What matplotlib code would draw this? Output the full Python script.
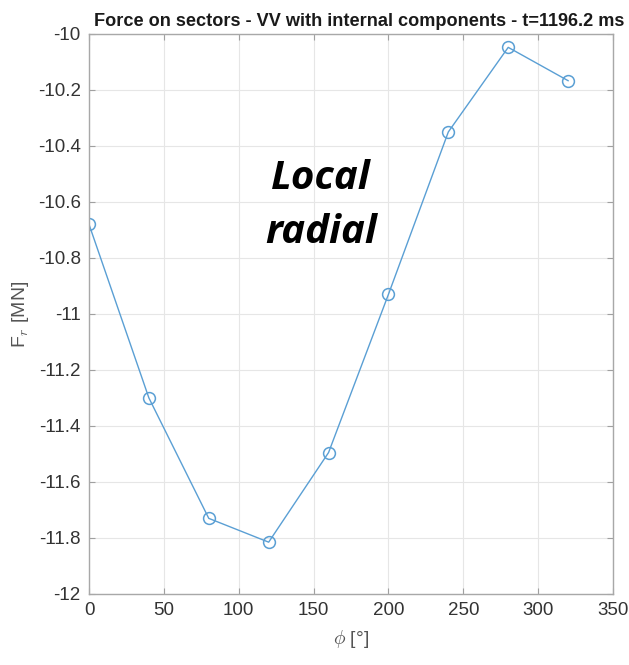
import matplotlib
matplotlib.use("Agg")
import matplotlib.pyplot as plt

# sector angle [deg] and local radial force [MN]
phi = [0, 40, 80, 120, 160, 200, 240, 280, 320]
f_r = [-10.68, -11.30, -11.73, -11.815, -11.495, -10.93, -10.35, -10.048, -10.167]

xticks = [0, 50, 100, 150, 200, 250, 300, 350]
yticks = [-12, -11.8, -11.6, -11.4, -11.2, -11, -10.8, -10.6, -10.4, -10.2, -10]
ytick_labels = ["-12", "-11.8", "-11.6", "-11.4", "-11.2", "-11",
                "-10.8", "-10.6", "-10.4", "-10.2", "-10"]

plt.rcParams["font.family"] = ["Liberation Sans", "DejaVu Sans"]
plt.rcParams["mathtext.fontset"] = "cm"

fig = plt.figure(figsize=(6.29, 6.65), dpi=100)
ax = fig.add_axes([0.1415, 0.1068, 0.8331, 0.8422])

line_col = "#5a9fd4"
ax.plot(phi, f_r, "-o", color=line_col, lw=1.0, ms=8.5, mfc="none", mec=line_col, mew=1.1)

ax.set_xlim(0, 350)
ax.set_ylim(-12, -10)
ax.set_xticks(xticks)
ax.set_yticks(yticks)
ax.set_yticklabels(ytick_labels)
ax.grid(True, color="#e6e6e6", lw=0.8)
ax.set_axisbelow(True)
ax.tick_params(direction="in", length=4, colors="#a0a0a0", labelcolor="#333333",
               labelsize=13.5, top=True, right=True, pad=6)
for s in ax.spines.values():
    s.set_color("#a8a8a8")
    s.set_linewidth(1.0)

ax.set_title("Force on sectors - VV with internal components - t=1196.2 ms",
             fontsize=13.1, fontweight="bold", color="#1a1a1a", pad=6, x=0.515)
ax.set_xlabel(r"$\phi$ [°]", fontsize=14, color="#555555", labelpad=6)
ax.set_ylabel(r"F$_r$ [MN]", fontsize=14, color="#555555", labelpad=5)

ax.text(155, -10.612, "Local\nradial", ha="center", va="center",
        fontsize=29, fontweight="bold", fontstyle="italic",
        family=["Open Sans", "DejaVu Sans"], linespacing=1.5)

fig.savefig("out.png", dpi=100)
